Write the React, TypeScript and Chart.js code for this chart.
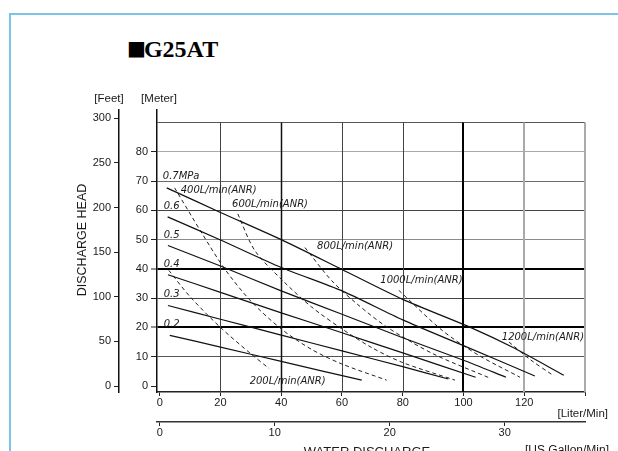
import { useEffect, useRef } from 'react';
import { Chart, registerables } from 'chart.js';

Chart.register(...registerables);

// ---- Data (liter/min vs meter) ----
const P07_FLOW = [2.3, 20, 40, 60, 80, 103, 116, 133];
const P07_HEAD = [67.7, 59.3, 50, 39.8, 29.6, 19.7, 13.3, 3.7];
const P06_FLOW = [2.6, 20, 40, 60, 80, 100, 123.5];
const P06_HEAD = [57.8, 49.9, 40.5, 32.5, 22.6, 13.8, 3.4];
const P05_FLOW = [2.7, 20, 40, 60, 80, 100, 114];
const P05_HEAD = [48, 41, 32.5, 24.5, 16.5, 8.8, 3];
const P04_FLOW = [2.7, 20, 40, 60, 80, 104];
const P04_HEAD = [38, 32, 25, 18.2, 11.3, 3];
const P03_FLOW = [2.7, 20, 40, 60, 80, 95];
const P03_HEAD = [27.5, 22.8, 17.4, 12, 6.6, 2.4];
const P02_FLOW = [3.3, 20, 40, 66.5];
const P02_HEAD = [17.3, 13.3, 8.4, 2];

const A200_FLOW = [3, 10, 20, 30, 36];
const A200_HEAD = [39.5, 30.5, 20, 11, 6];
const A400_FLOW = [4.9, 14, 21.4, 30, 40, 50, 60, 74.7];
const A400_HEAD = [67.7, 52, 40, 29, 19.5, 12.5, 7.5, 2];
const A600_FLOW = [25.7, 31.3, 40.5, 50, 60, 70, 80, 97.2];
const A600_HEAD = [58.8, 46.3, 36, 27, 19.5, 13, 8, 2];
const A800_FLOW = [47.8, 56.6, 65, 75, 90, 108.7];
const A800_HEAD = [47.3, 36, 28, 20, 11, 2.7];
const A1000_FLOW = [78.7, 93, 105, 118.6];
const A1000_HEAD = [32.7, 19, 10.5, 3];
const A1200_FLOW = [115, 122, 129.4];
const A1200_HEAD = [15, 9, 3.7];

const PRESSURE_LABELS = ['0.7MPa', '0.6', '0.5', '0.4', '0.3', '0.2'];
const AIR_LABELS = ['200L/min(ANR)', '400L/min(ANR)', '600L/min(ANR)', '800L/min(ANR)', '1000L/min(ANR)', '1200L/min(ANR)'];

const METER_TICKS = [0, 10, 20, 30, 40, 50, 60, 70, 80, 90];
const FEET_TICKS = [0, 50, 100, 150, 200, 250, 300];
const LITER_TICKS = [0, 20, 40, 60, 80, 100, 120, 140];
const GALLON_TICKS = [0, 10, 20, 30];

// ---- Layout / styling (not data) ----
const FT_PER_M = 3.28084;
const L_PER_GAL = 3.78541;
const X_MIN = -0.9;
const X_MAX = 140;
const Y_MIN = -2.05;
const Y_MAX = 94.3;

// label anchors in data coordinates (x: L/min, y: m)
const PRESSURE_LABEL_POS = [
  [1.0, 71.6], [1.3, 61.2], [1.3, 51.3], [1.3, 41.4], [1.3, 31.2], [1.3, 21.1],
];
const AIR_LABEL_POS = [
  [29.6, 1.7], [6.9, 66.7], [23.8, 61.9], [51.8, 47.6], [72.6, 36.0], [112.6, 16.7],
];

const zip = (xs: number[], ys: number[]) => xs.map((x, i) => ({ x, y: ys[i] }));

const FONT = "'Liberation Sans', Arial, sans-serif";
const INK = '#1a1a1a';

const hGridColor: Record<number, string> = {
  0: 'rgba(0,0,0,0)', 10: '#555', 20: '#000', 30: '#444', 40: '#000', 50: '#8a8a8a',
  60: '#444', 70: '#6a6a6a', 80: '#aaaaaa', 90: '#555',
};
const hGridWidth: Record<number, number> = { 20: 2, 40: 2 };
const vGrid: { v: number; c: string; w: number }[] = [
  { v: 20, c: '#444', w: 1 },
  { v: 40, c: '#111', w: 1.5 },
  { v: 60, c: '#444', w: 1 },
  { v: 80, c: '#444', w: 1 },
  { v: 100, c: '#000', w: 2 },
  { v: 120, c: '#aaaaaa', w: 2 },
  { v: 140, c: '#aaaaaa', w: 2 },
];

const decorPlugin = {
  id: 'decor',
  beforeDatasetsDraw(chart: any) {
    const { ctx, scales, chartArea } = chart;
    const x = scales.x;
    const y = scales.y;
    const top = y.getPixelForValue(90);
    ctx.save();
    vGrid.forEach((g) => {
      const px = Math.round(x.getPixelForValue(g.v)) + (g.w % 2 ? 0.5 : 0);
      ctx.beginPath();
      ctx.strokeStyle = g.c;
      ctx.lineWidth = g.w;
      ctx.moveTo(px, top);
      ctx.lineTo(px, chartArea.bottom);
      ctx.stroke();
    });
    ctx.restore();
  },
  afterDraw(chart: any) {
    const { ctx, scales } = chart;
    const x = scales.x;
    const y = scales.y;
    ctx.save();
    ctx.fillStyle = INK;
    // curve labels
    ctx.font = "italic 10px 'DejaVu Sans', sans-serif";
    ctx.textAlign = 'left';
    ctx.textBaseline = 'middle';
    PRESSURE_LABELS.forEach((t, i) => {
      const [lx, ly] = PRESSURE_LABEL_POS[i];
      ctx.fillText(t, x.getPixelForValue(lx), y.getPixelForValue(ly));
    });
    AIR_LABELS.forEach((t, i) => {
      const [lx, ly] = AIR_LABEL_POS[i];
      ctx.fillText(t, x.getPixelForValue(lx), y.getPixelForValue(ly));
    });
    // axis unit texts
    ctx.font = `11.5px ${FONT}`;
    ctx.textAlign = 'center';
    ctx.fillText('[Feet]', 109, 99);
    ctx.fillText('[Meter]', 159, 99);
    ctx.textAlign = 'right';
    ctx.fillText('[Liter/Min]', 608, 414);
    ctx.font = `12px ${FONT}`;
    ctx.fillText('[US Gallon/Min]', 609, 451);
    ctx.font = `13px ${FONT}`;
    ctx.textAlign = 'center';
    ctx.fillText('WATER DISCHARGE', 367, 452);
    // vertical title
    ctx.translate(83, 240);
    ctx.rotate(-Math.PI / 2);
    ctx.font = `12.5px ${FONT}`;
    ctx.fillText('DISCHARGE HEAD', 0, 0);
    ctx.restore();
  },
};

export default function App() {
  const ref = useRef<HTMLCanvasElement>(null);

  useEffect(() => {
    const solid = (xs: number[], ys: number[], label: string) => ({
      label,
      data: zip(xs, ys),
      borderColor: '#111',
      borderWidth: 1.2,
      pointRadius: 0,
      tension: 0.25,
      fill: false,
    });
    const dashed = (xs: number[], ys: number[], label: string) => ({
      label,
      data: zip(xs, ys),
      borderColor: '#222',
      borderWidth: 1,
      borderDash: [4, 3],
      pointRadius: 0,
      tension: 0.3,
      fill: false,
    });

    const tickFont = { family: FONT, size: 11 };

    const chart = new Chart(ref.current as HTMLCanvasElement, {
      type: 'line',
      data: {
        datasets: [
          solid(P07_FLOW, P07_HEAD, PRESSURE_LABELS[0]),
          solid(P06_FLOW, P06_HEAD, PRESSURE_LABELS[1]),
          solid(P05_FLOW, P05_HEAD, PRESSURE_LABELS[2]),
          solid(P04_FLOW, P04_HEAD, PRESSURE_LABELS[3]),
          solid(P03_FLOW, P03_HEAD, PRESSURE_LABELS[4]),
          solid(P02_FLOW, P02_HEAD, PRESSURE_LABELS[5]),
          dashed(A200_FLOW, A200_HEAD, AIR_LABELS[0]),
          dashed(A400_FLOW, A400_HEAD, AIR_LABELS[1]),
          dashed(A600_FLOW, A600_HEAD, AIR_LABELS[2]),
          dashed(A800_FLOW, A800_HEAD, AIR_LABELS[3]),
          dashed(A1000_FLOW, A1000_HEAD, AIR_LABELS[4]),
          dashed(A1200_FLOW, A1200_HEAD, AIR_LABELS[5]),
        ],
      },
      options: {
        responsive: false,
        animation: false,
        layout: { padding: { left: 60, right: 33, top: 110, bottom: 0 } },
        plugins: { legend: { display: false }, tooltip: { enabled: false } },
        elements: { point: { radius: 0 } },
        scales: {
          x: {
            type: 'linear',
            position: 'bottom',
            weight: 0,
            min: X_MIN,
            max: X_MAX,
            afterBuildTicks: (s: any) => { s.ticks = LITER_TICKS.map((v) => ({ value: v })); },
            afterFit: (s: any) => { s.height = 30; },
            grid: { drawOnChartArea: false, tickLength: 4, color: '#222' },
            border: { color: '#222', width: 1.5 },
            ticks: {
              autoSkip: false, maxRotation: 0, padding: 0, color: INK, font: tickFont,
              callback: (v: any) => (v === 140 ? '' : String(v)),
            },
          },
          x2: {
            type: 'linear',
            position: 'bottom',
            weight: 1,
            min: X_MIN / L_PER_GAL,
            max: X_MAX / L_PER_GAL,
            afterBuildTicks: (s: any) => { s.ticks = GALLON_TICKS.map((v) => ({ value: v })); },
            afterFit: (s: any) => { s.height = 29; },
            grid: { drawOnChartArea: false, tickLength: 4, color: '#222' },
            border: { color: '#333', width: 1.5 },
            ticks: {
              autoSkip: false, maxRotation: 0, padding: 0, color: INK, font: tickFont,
              callback: (v: any) => String(v),
            },
          },
          y: {
            type: 'linear',
            position: 'left',
            weight: 0,
            min: Y_MIN,
            max: Y_MAX,
            afterBuildTicks: (s: any) => { s.ticks = METER_TICKS.map((v) => ({ value: v })); },
            afterFit: (s: any) => { s.width = 38; },
            grid: {
              tickLength: 6,
              color: (c: any) => hGridColor[c.tick?.value] ?? '#555',
              lineWidth: (c: any) => hGridWidth[c.tick?.value] ?? 1,
              tickColor: (c: any) => (c.tick?.value === 90 ? 'rgba(0,0,0,0)' : '#222'),
              tickWidth: 1,
            },
            border: { color: '#111', width: 1.5 },
            ticks: {
              autoSkip: false, padding: 3, color: INK, font: tickFont,
              callback: (v: any) => (v === 90 ? '' : String(v)),
            },
          },
          yFeet: {
            type: 'linear',
            position: 'left',
            weight: 1,
            min: Y_MIN * FT_PER_M,
            max: Y_MAX * FT_PER_M,
            afterBuildTicks: (s: any) => { s.ticks = FEET_TICKS.map((v) => ({ value: v })); },
            afterFit: (s: any) => { s.width = 59; },
            grid: { drawOnChartArea: false, tickLength: 5, color: '#222' },
            border: { color: '#111', width: 1.5 },
            ticks: {
              autoSkip: false, padding: 3, color: INK, font: tickFont,
              callback: (v: any) => String(v),
            },
          },
        },
      },
      plugins: [decorPlugin],
    } as any);
    return () => chart.destroy();
  }, []);

  return (
    <div style={{ position: 'fixed', left: 0, top: 0, width: 618, height: 451, background: '#fff', overflow: 'hidden' }}>
      <div
        style={{
          position: 'absolute', left: 9, top: 13, width: 700, height: 500,
          borderTop: '2px solid #7cc3ea', borderLeft: '2px solid #7cc3ea',
        }}
      />
      <div
        style={{
          position: 'absolute', left: 127, top: 37, fontFamily: "'Liberation Serif', 'DejaVu Serif', serif",
          fontWeight: 'bold', fontSize: 24, lineHeight: '24px', color: '#000', whiteSpace: 'nowrap',
        }}
      >
        <span style={{ fontFamily: "'DejaVu Sans', sans-serif", fontWeight: 'normal', fontSize: 20, marginRight: -2, position: 'relative', top: -2 }}>■</span>
        G25AT
      </div>
      <canvas ref={ref} width={618} height={451} style={{ position: 'absolute', left: 0, top: 0 }} />
    </div>
  );
}
